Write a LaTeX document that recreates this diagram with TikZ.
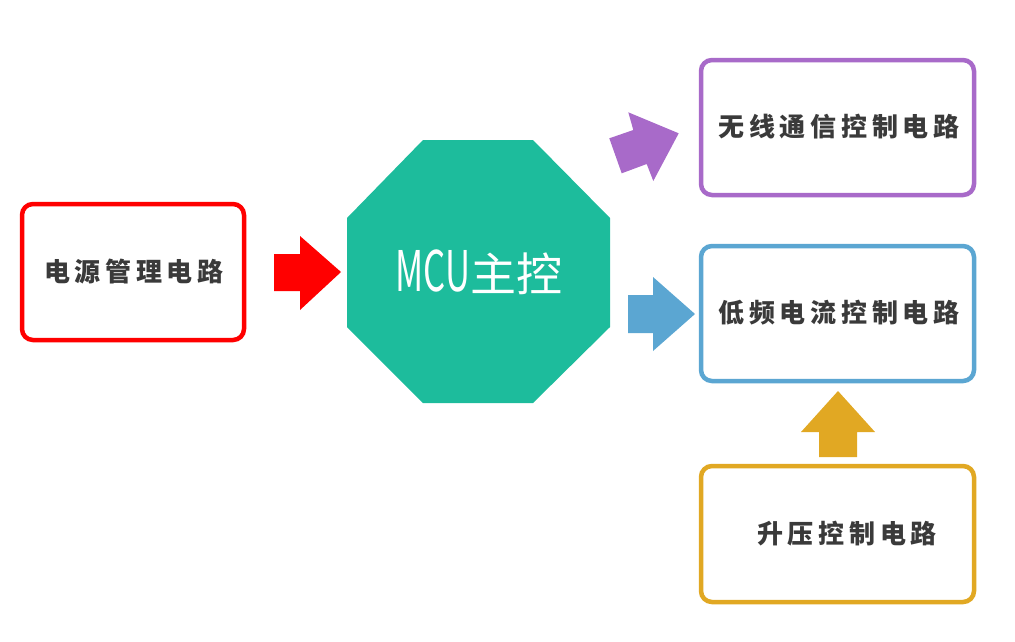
\documentclass[tikz,border=0pt]{standalone}
\usepackage{fontspec}
\newfontfamily\cjk[LetterSpace=18]{Noto Sans CJK SC}
\newfontfamily\cjkm{Noto Sans CJK SC}
\definecolor{cred}{HTML}{FF0000}
\definecolor{cpurple}{HTML}{A86AC9}
\definecolor{cblue}{HTML}{5BA6D2}
\definecolor{cgold}{HTML}{E1A823}
\definecolor{cteal}{HTML}{1DBC9C}
\definecolor{ctext}{HTML}{3A3A3A}
\tikzset{
  blockbox/.style={line width=4.5pt, rounded corners=11pt, fill=white},
  lbl/.style={text=ctext, font=\cjk\bfseries\fontsize{26}{26}\selectfont, inner sep=0pt}
}
\begin{document}
\begin{tikzpicture}[x=1pt,y=-1pt]
\useasboundingbox (0,0) rectangle (1015,641);
% boxes
\draw[blockbox, draw=cred] (22,204) rectangle (244,340);
\draw[blockbox, draw=cpurple] (701,60) rectangle (974,195);
\draw[blockbox, draw=cblue] (701,246) rectangle (974,381);
\draw[blockbox, draw=cgold] (701,466) rectangle (974,602);
\node[lbl] (pwr) at (134,272) {电源管理电路};
\node[lbl] (wl) at (839,127) {无线通信控制电路};
\node[lbl] (lf) at (839,313) {低频电流控制电路};
\node[lbl] (bst) at (847,534) {升压控制电路};
% octagon
\fill[cteal] (423,140) -- (533,140) -- (610,218) -- (610,327) -- (533,403) -- (423,403) -- (347,327) -- (347,218) -- cycle;
\node[text=white, inner sep=0pt] (mcu) at (479,272) {\cjkm\scalebox{0.62}[1]{\fontsize{56}{56}\selectfont MCU}\fontsize{46}{46}\selectfont 主控};
% arrows
\fill[cred] (274,254) -- (300,254) -- (300,236) -- (341,272) -- (300,310) -- (300,291) -- (274,291) -- cycle;
\fill[cblue] (628,295) -- (653,295) -- (653,277) -- (695,314) -- (653,351) -- (653,333) -- (628,333) -- cycle;
\fill[cgold] (819,457) -- (819,432) -- (801,432) -- (838,391) -- (875,432) -- (857,432) -- (857,457) -- cycle;
\fill[cpurple] (609.3,138.3) -- (633.3,130) -- (628.3,112.3) -- (678.7,133.3) -- (653.3,181) -- (646.7,164) -- (621.7,173.3) -- cycle;
\end{tikzpicture}
\end{document}
